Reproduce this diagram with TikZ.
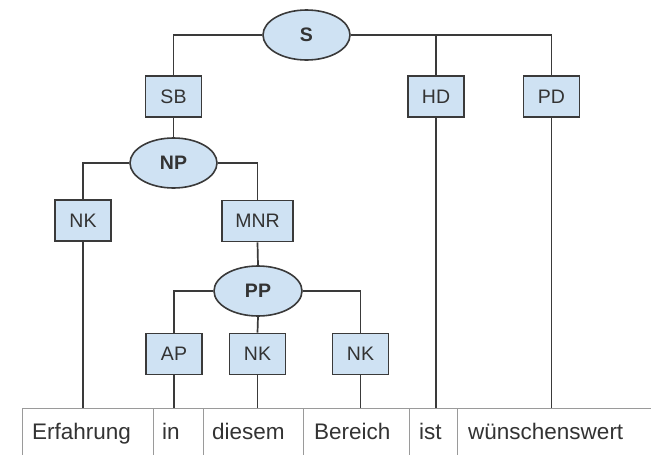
\documentclass[tikz,border=0pt]{standalone}
\usepackage{fontspec}
\setmainfont{Liberation Sans}
\usetikzlibrary{shapes.geometric}
\definecolor{boxfill}{HTML}{CFE2F3}
\definecolor{edge}{HTML}{3A3A3A}
\definecolor{txt}{HTML}{333333}
\definecolor{tabline}{HTML}{9A9A9A}
\tikzset{
  lab/.style={draw=edge, line width=1.6pt, fill=boxfill, inner sep=0pt,
    minimum width=56pt, minimum height=41pt, text=txt,
    font=\fontsize{19.5}{22}\selectfont},
  cat/.style={ellipse, draw=edge, line width=1.6pt, fill=boxfill, inner sep=0pt,
    minimum width=87pt, minimum height=50pt, text=txt,
    font=\fontsize{19.5}{22}\selectfont\bfseries},
  conn/.style={draw=edge, line width=1.7pt},
  word/.style={anchor=base west, inner sep=0pt, text=txt,
    font=\fontsize{22.5}{26}\selectfont},
  tab/.style={draw=tabline, line width=1pt}
}
\begin{document}
\begin{tikzpicture}[x=1pt,y=-1pt]
\useasboundingbox (0,0) rectangle (651,455);
\fill[white] (0,0) rectangle (651,455);
% nodes
\node[cat] (S) at (306.5,35) {S};
\node[lab] (SB) at (173.5,96.5) {SB};
\node[lab] (HD) at (436,96.5) {HD};
\node[lab] (PD) at (551.5,96.5) {PD};
\node[cat] (NP) at (173.5,163) {NP};
\node[lab] (NK1) at (83,220.5) {NK};
\node[lab, minimum width=71pt] (MNR) at (257.5,221) {MNR};
\node[cat, minimum width=88pt] (PP) at (258,291) {PP};
\node[lab] (AP) at (174,354) {AP};
\node[lab] (NK2) at (257.5,354) {NK};
\node[lab] (NK3) at (360.5,354) {NK};
% table
\coordinate (tl) at (22,408);
\coordinate (tr) at (651,408);
\draw[tab] (tl) -- (tr);
\foreach \x in {22,153,203,303,409,457}{\draw[tab] (\x,408) -- (\x,455);}
\node[word] (w1) at (32,439) {Erfahrung};
\node[word] (w2) at (162,439) {in};
\node[word] (w3) at (212,439) {diesem};
\node[word] (w4) at (314,439) {Bereich};
\node[word] (w5) at (419,439) {ist};
\node[word] (w6) at (468,439) {wünschenswert};
% connectors
\draw[conn] (S.west) -| (SB.north);
\draw[conn] (S.east) -| (PD.north);
\draw[conn] (HD.north) -- (HD.north |- S.east);
\draw[conn] (SB.south) -- (NP.north);
\draw[conn] (NP.west) -| (NK1.north);
\draw[conn] (NP.east) -| (MNR.north);
\draw[conn] (MNR.south) -- (PP.north);
\draw[conn] (PP.west) -| (AP.north);
\draw[conn] (PP.south) -- (NK2.north);
\draw[conn] (PP.east) -| (NK3.north);
\draw[conn] (NK1.south) -- (NK1.south |- tl);
\draw[conn] (AP.south) -- (AP.south |- tl);
\draw[conn] (NK2.south) -- (NK2.south |- tl);
\draw[conn] (NK3.south) -- (NK3.south |- tl);
\draw[conn] (HD.south) -- (HD.south |- tl);
\draw[conn] (PD.south) -- (PD.south |- tl);
\end{tikzpicture}
\end{document}
